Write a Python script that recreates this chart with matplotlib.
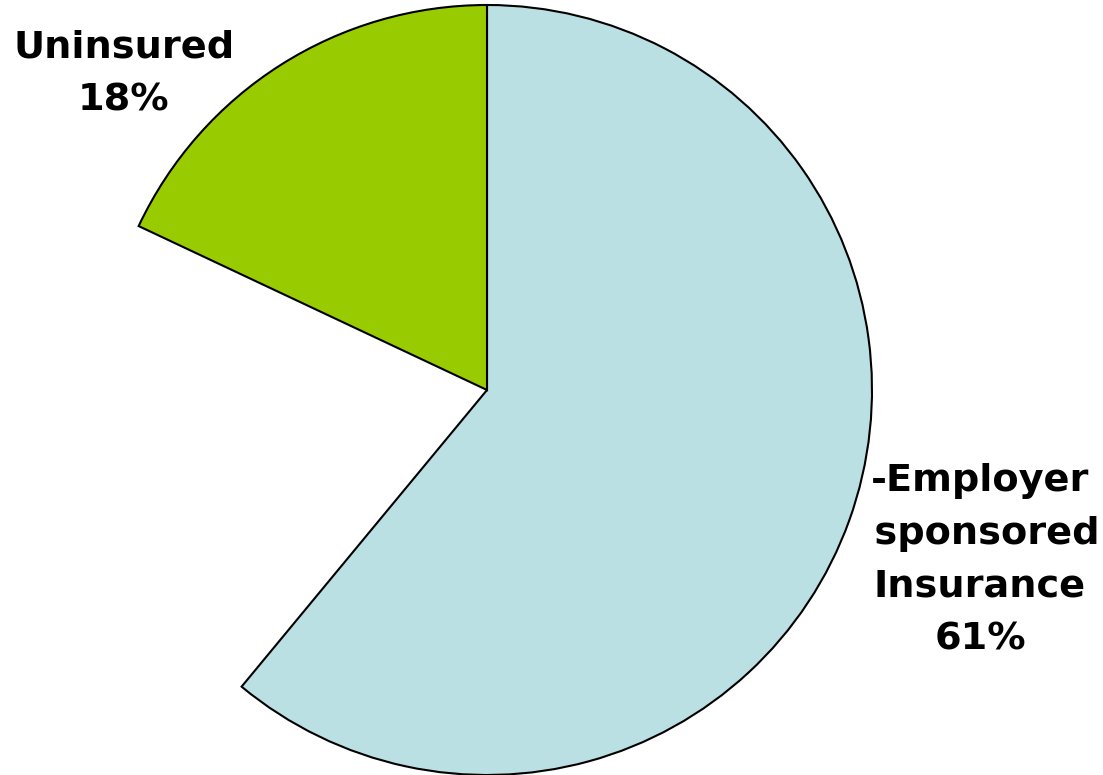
import matplotlib
matplotlib.use('Agg')
import matplotlib.pyplot as plt

# Slice data (the middle share is not drawn in the original)
labels = ['-Employer\n sponsored\nInsurance\n61%', '', 'Uninsured\n18%']
shares = [61, 21, 18]
colors = ['#bbe0e3', 'white', '#99cc00']

fig = plt.figure(figsize=(11.03, 7.75), dpi=100)
ax = fig.add_axes([0, 0, 1, 1])

wedges, _ = ax.pie(shares, colors=colors, startangle=90, counterclock=False,
                   center=(487, 385), radius=385, frame=True,
                   wedgeprops=dict(edgecolor='black', linewidth=1.5))
# the middle slice is left out of the drawing
wedges[1].set_visible(False)
ax.set_xlim(0, 1103)
ax.set_ylim(0, 775)
ax.set_aspect('equal')
ax.axis('off')

ax.text(980, 215, labels[0], ha='center', va='center', fontsize=27.5,
        fontweight='bold', linespacing=1.6)
ax.text(124, 701, labels[2], ha='center', va='center', fontsize=27.5,
        fontweight='bold', linespacing=1.6)

fig.savefig('out.png', dpi=100)
